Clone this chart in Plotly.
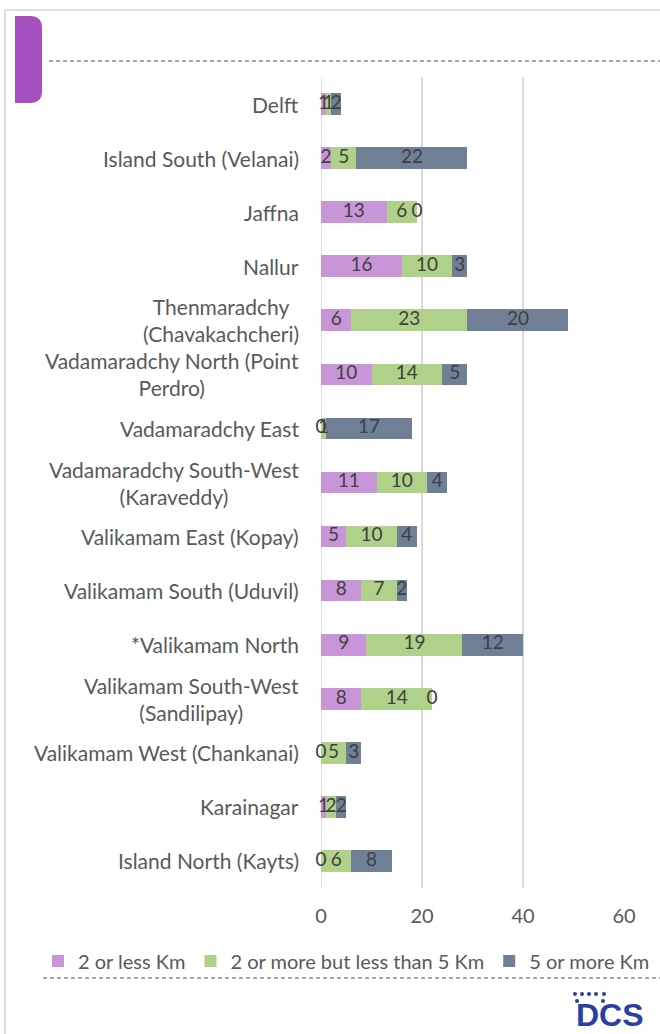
import plotly.graph_objects as go

categories = [
    "Delft",
    "Island South (Velanai)",
    "Jaffna",
    "Nallur",
    "Thenmaradchy<br>(Chavakachcheri)",
    "Vadamaradchy North (Point<br>Perdro)",
    "Vadamaradchy East",
    "Vadamaradchy South-West<br>(Karaveddy)",
    "Valikamam East (Kopay)",
    "Valikamam South (Uduvil)",
    "*Valikamam North",
    "Valikamam South-West<br>(Sandilipay)",
    "Valikamam West (Chankanai)",
    "Karainagar",
    "Island North (Kayts)",
]
less2 = [1, 2, 13, 16, 6, 10, 0, 11, 5, 8, 9, 8, 0, 1, 0]
between2_5 = [1, 5, 6, 10, 23, 14, 1, 10, 10, 7, 19, 14, 5, 2, 6]
more5 = [2, 22, 0, 3, 20, 5, 17, 4, 4, 2, 12, 0, 3, 2, 8]
series_names = ["2 or less Km", "2 or more but less than 5 Km", "5 or more Km"]
colors = ["#C896D8", "#AFD189", "#6E7F96"]
x_ticks = [0, 20, 40, 60]

W, H = 660, 1034
L, R, T, B = 321, 36, 77, 146
PW, PH = W - L - R, H - T - B


def px(x):
    return (x - L) / PW


def py(y):
    return (H - B - y) / PH


FONT = "Lato"
fig = go.Figure()
series = [less2, between2_5, more5]
for name, vals, col in zip(series_names, series, colors):
    fig.add_trace(go.Bar(
        y=categories, x=vals, name=name, orientation="h",
        marker=dict(color=col, line=dict(width=0)),
        hoverinfo="x+y",
    ))

# data labels at segment centres
base = [0] * len(categories)
for vals in series:
    mids = [b + v / 2 for b, v in zip(base, vals)]
    fig.add_trace(go.Scatter(
        y=categories, x=mids, mode="text", text=[str(v) for v in vals],
        textfont=dict(family=FONT, size=19, color="#404040"),
        showlegend=False, hoverinfo="skip", cliponaxis=False,
    ))
    base = [b + v for b, v in zip(base, vals)]

# category labels (centred multi-line like the original)
for c in categories:
    fig.add_annotation(
        x=px(300), xref="paper", y=c, yref="y", text=c, showarrow=False,
        xanchor="right", align="center", borderpad=0,
        font=dict(family=FONT, size=21, color="#595959"),
    )

shapes = []
# outer border
shapes.append(dict(type="line", xref="paper", yref="paper", x0=px(5), x1=px(662),
                   y0=py(10), y1=py(10), line=dict(color="#D4D4D4", width=1.5)))
shapes.append(dict(type="line", xref="paper", yref="paper", x0=px(5), x1=px(5),
                   y0=py(10), y1=py(1040), line=dict(color="#D4D4D4", width=1.5)))
# purple tab with rounded right corners
x0, x1, y0, y1, r = px(15), px(42), py(16), py(103), 12
rx, ry = r / PW, r / PH
path = (f"M {x0},{y0} L {x1-rx},{y0} Q {x1},{y0} {x1},{y0-ry} "
        f"L {x1},{y1+ry} Q {x1},{y1} {x1-rx},{y1} L {x0},{y1} Z")
shapes.append(dict(type="path", xref="paper", yref="paper", path=path,
                   fillcolor="#A64FC1", line=dict(width=0)))
# dashed rules
shapes.append(dict(type="line", xref="paper", yref="paper", x0=px(49), x1=px(660),
                   y0=py(61), y1=py(61), line=dict(color="#44546A", width=1, dash="4px,3px")))
shapes.append(dict(type="line", xref="paper", yref="paper", x0=px(43), x1=px(660),
                   y0=py(978), y1=py(978), line=dict(color="#44546A", width=1, dash="4px,3px")))
# logo dots
for (dx, dy) in [(575, 994), (582, 994), (589, 994), (596, 994), (604, 994), (577, 1001), (603, 1001)]:
    shapes.append(dict(type="circle", xref="paper", yref="paper",
                       x0=px(dx - 2), x1=px(dx + 2), y0=py(dy - 2), y1=py(dy + 2),
                       fillcolor="#2B3FA3", line=dict(width=0)))
fig.add_annotation(x=px(610), y=py(1015), xref="paper", yref="paper", text="<b>DCS</b>",
                   showarrow=False, xanchor="center", yanchor="middle", borderpad=0,
                   font=dict(family="Liberation Sans", size=32, color="#2B3FA3"))

fig.update_layout(
    width=W, height=H, barmode="stack", bargap=0.6,
    margin=dict(l=L, r=R, t=T, b=B, autoexpand=False),
    paper_bgcolor="white", plot_bgcolor="white",
    shapes=shapes,
    showlegend=True,
    legend=dict(orientation="h", x=px(38), xanchor="left", y=py(961), yanchor="middle",
                font=dict(family=FONT, size=20, color="#595959"), traceorder="normal",
                itemwidth=30, bgcolor="rgba(0,0,0,0)"),
    xaxis=dict(range=[0, 60], tickvals=x_ticks, showgrid=True, gridcolor="#D9D9D9", gridwidth=1.5,
               zeroline=False, showline=False, ticks="outside", ticklen=10,
               tickcolor="rgba(0,0,0,0)",
               tickfont=dict(family=FONT, size=20, color="#595959")),
    yaxis=dict(categoryorder="array", categoryarray=categories,
               range=[len(categories) - 0.5, -0.5],
               showticklabels=False, showgrid=False, zeroline=False, showline=False),
)
fig.add_shape(type="line", xref="x", yref="paper", x0=0, x1=0, y0=0, y1=1,
              line=dict(color="#D9D9D9", width=1.5), layer="below")
fig.write_html("out.html", config={"displayModeBar": False},
               post_script="document.body.style.margin='0';document.body.style.overflow='hidden';")
